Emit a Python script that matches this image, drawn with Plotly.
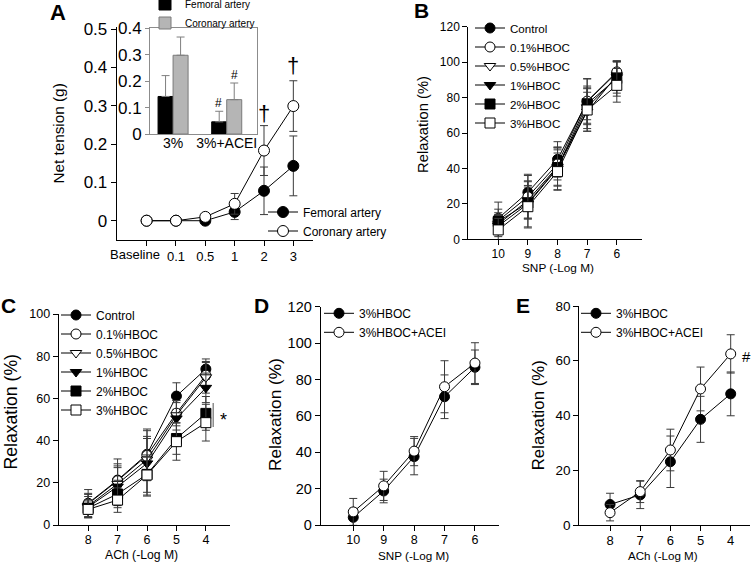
import plotly.graph_objects as go

# ---------------- data ----------------
# Panel A
a_doses = ["Baseline", "0.1", "0.5", "1", "2", "3"]
a_fem = [0.0, 0.0, 0.0, 0.023, 0.078, 0.143]
a_fem_err = [0.0, 0.0, 0.004, 0.02, 0.062, 0.078]
a_cor = [0.0, 0.0, 0.01, 0.044, 0.183, 0.299]
a_cor_err = [0.0, 0.0, 0.005, 0.027, 0.065, 0.066]

# Panel A inset
in_groups = ["3%", "3%+ACEI"]
in_fem = [0.142, 0.046]
in_fem_err = [0.079, 0.040]
in_cor = [0.298, 0.130]
in_cor_err = [0.069, 0.063]

# Panel B (SNP)
snp_doses = ["10", "9", "8", "7", "6"]
b_control = [11.8, 26.5, 45.1, 77.7, 94.0]
b_control_err = [9.2, 10.2, 10.0, 13.0, 6.5]
b_01 = [10.5, 24.0, 42.5, 78.0, 94.5]
b_01_err = [6.5, 12.0, 9.0, 12.5, 6.0]
b_05 = [8.5, 22.0, 41.0, 72.0, 92.5]
b_05_err = [5.5, 10.5, 11.0, 11.0, 7.5]
b_1 = [7.5, 20.0, 40.0, 74.5, 91.5]
b_1_err = [6.0, 13.0, 12.0, 12.0, 9.0]
b_2 = [10.0, 20.5, 40.5, 76.5, 90.8]
b_2_err = [5.0, 9.0, 10.0, 9.0, 10.0]
b_3 = [5.3, 18.4, 38.2, 73.0, 86.9]
b_3_err = [6.5, 12.0, 10.5, 12.0, 9.5]

# Panel C (ACh)
ach_doses = ["8", "7", "6", "5", "4"]
c_control = [10.3, 21.3, 33.5, 61.1, 73.9]
c_control_err = [6.5, 10.0, 12.0, 6.3, 4.8]
c_01 = [10.0, 21.0, 33.0, 53.0, 71.0]
c_01_err = [5.0, 8.0, 9.0, 6.0, 6.0]
c_05 = [9.0, 19.5, 31.0, 52.0, 70.0]
c_05_err = [5.5, 8.5, 10.0, 7.0, 7.5]
c_1 = [8.5, 18.2, 29.2, 50.5, 65.0]
c_1_err = [5.0, 9.0, 15.5, 7.5, 7.0]
c_2 = [8.0, 14.7, 24.0, 41.0, 52.9]
c_2_err = [4.0, 6.5, 8.5, 7.5, 8.0]
c_3 = [7.4, 11.8, 23.7, 39.5, 48.5]
c_3_err = [4.0, 5.8, 9.5, 8.8, 8.7]

# Panel D (SNP)
d_hboc = [4.2, 18.7, 37.6, 70.5, 86.7]
d_hboc_err = [5.0, 6.5, 10.0, 12.0, 9.5]
d_acei = [7.2, 21.5, 40.6, 76.0, 89.0]
d_acei_err = [7.4, 8.0, 8.0, 14.3, 11.2]

# Panel E (ACh)
e_hboc = [7.5, 11.0, 23.1, 38.6, 47.9]
e_hboc_err = [4.1, 5.0, 9.4, 8.4, 8.0]
e_acei = [4.5, 12.2, 27.4, 49.7, 62.5]
e_acei_err = [3.0, 4.0, 7.6, 8.0, 7.0]

hboc_names = ["Control", "0.1%HBOC", "0.5%HBOC", "1%HBOC", "2%HBOC", "3%HBOC"]

# ---------------- styling ----------------
FONT = "Liberation Sans, Arial, sans-serif"
W, H = 756, 562

def px_x(p):
    return p / W

def px_y(p):
    return 1 - p / H

styles = [
    dict(symbol="circle", color="black"),
    dict(symbol="circle", color="white"),
    dict(symbol="triangle-down", color="white"),
    dict(symbol="triangle-down", color="black"),
    dict(symbol="square", color="black"),
    dict(symbol="square", color="white"),
]

fig = go.Figure()

def line_trace(x, y, err, name, st, xa, ya, legend, size=10, ecolor="#3a3a3a"):
    return go.Scatter(
        x=x, y=y, name=name, mode="lines+markers",
        xaxis=xa, yaxis=ya, legend=legend,
        line=dict(color="black", width=1),
        marker=dict(symbol=st["symbol"], color=st["color"], size=size,
                    line=dict(color="black", width=1)),
        error_y=dict(type="data", array=err, color=ecolor, thickness=1, width=4),
    )

# Panel A lines
fig.add_trace(line_trace(a_doses, a_fem, a_fem_err, "Femoral artery", styles[0],
                         "x", "y", "legend", size=11))
fig.add_trace(line_trace(a_doses, a_cor, a_cor_err, "Coronary artery", styles[1],
                         "x", "y", "legend", size=11))

# Panel A inset bars
fig.add_trace(go.Bar(
    x=in_groups, y=in_fem, name="Femoral artery", xaxis="x2", yaxis="y2",
    legend="legend2", marker=dict(color="black", line=dict(color="black", width=1)),
    error_y=dict(type="data", symmetric=False, array=in_fem_err, arrayminus=[0, 0],
                 color="#7f7f7f", thickness=1, width=4),
))
fig.add_trace(go.Bar(
    x=in_groups, y=in_cor, name="Coronary artery", xaxis="x2", yaxis="y2",
    legend="legend2", marker=dict(color="#b5b5b5", line=dict(color="#7a7a7a", width=1)),
    error_y=dict(type="data", symmetric=False, array=in_cor_err, arrayminus=[0, 0],
                 color="#7f7f7f", thickness=1, width=4),
))

# Panel B
b_vals = [b_control, b_01, b_05, b_1, b_2, b_3]
b_errs = [b_control_err, b_01_err, b_05_err, b_1_err, b_2_err, b_3_err]
for nm, v, e, st in zip(hboc_names, b_vals, b_errs, styles):
    fig.add_trace(line_trace(snp_doses, v, e, nm, st, "x3", "y3", "legend3"))

# Panel C
c_vals = [c_control, c_01, c_05, c_1, c_2, c_3]
c_errs = [c_control_err, c_01_err, c_05_err, c_1_err, c_2_err, c_3_err]
for nm, v, e, st in zip(hboc_names, c_vals, c_errs, styles):
    fig.add_trace(line_trace(ach_doses, v, e, nm, st, "x4", "y4", "legend4"))

# Panel D
fig.add_trace(line_trace(snp_doses, d_hboc, d_hboc_err, "3%HBOC", styles[0], "x5", "y5", "legend5"))
fig.add_trace(line_trace(snp_doses, d_acei, d_acei_err, "3%HBOC+ACEI", styles[1], "x5", "y5", "legend5"))

# Panel E
fig.add_trace(line_trace(ach_doses, e_hboc, e_hboc_err, "3%HBOC", styles[0], "x6", "y6", "legend6"))
fig.add_trace(line_trace(ach_doses, e_acei, e_acei_err, "3%HBOC+ACEI", styles[1], "x6", "y6", "legend6"))

# ---------------- axes ----------------
def xax(domain, rng, anchor, fs=12, standoff=-2):
    return dict(domain=domain, range=rng, anchor=anchor, type="category",
                showline=True, linecolor="black", linewidth=1,
                ticks="outside", ticklen=5, tickcolor="black", tickangle=0,
                ticklabelstandoff=standoff,
                showgrid=False, zeroline=False,
                tickfont=dict(family=FONT, size=fs, color="black"))

def yax(domain, rng, anchor, dtick, fs=12):
    return dict(domain=domain, range=rng, anchor=anchor,
                showline=True, linecolor="black", linewidth=1,
                ticks="outside", ticklen=5, tickcolor="black",
                showgrid=False, zeroline=False, tick0=0, dtick=dtick,
                tickfont=dict(family=FONT, size=fs, color="black"))

# "Baseline" label sits left of its tick in the reference: it is written as an
# annotation attached to its category, the other dose labels are tick labels
a_ticktext = [""] + a_doses[1:]
xaxis_a = xax([px_x(116.7), px_x(313)], [-1.02, 5.67], "y", fs=13, standoff=-1)
xaxis_a.update(tickmode="array", tickvals=a_doses, ticktext=a_ticktext)

layout_axes = dict(
    xaxis=xaxis_a,
    yaxis=yax([px_y(240), px_y(26.7)], [-0.0503, 0.506], "x", 0.1, fs=17),
    xaxis2=dict(domain=[px_x(150), px_x(257.3)], range=[-0.43, 1.57], anchor="y2",
                type="category", showline=True, mirror=True, linecolor="#8c8c8c",
                linewidth=1, ticks="", showgrid=False, zeroline=False, tickangle=0,
                ticklabelstandoff=-4,
                tickfont=dict(family=FONT, size=14, color="black")),
    yaxis2=dict(domain=[px_y(134), px_y(28.3)], range=[0, 0.4], anchor="x2",
                showline=True, mirror=True, linecolor="#8c8c8c", linewidth=1,
                ticks="outside", ticklen=4, tickcolor="#8c8c8c",
                showgrid=False, zeroline=False, tick0=0, dtick=0.1,
                tickfont=dict(family=FONT, size=17, color="black")),
    xaxis3=xax([px_x(468.3), px_x(641.7)], [-1.01, 4.84], "y3"),
    yaxis3=yax([px_y(239.3), px_y(26.7)], [0, 120], "x3", 20),
    xaxis4=xax([px_x(58.7), px_x(230)], [-1.0, 4.82], "y4", fs=12.5),
    yaxis4=yax([px_y(525), px_y(314)], [0, 100], "x4", 20, fs=12.5),
    xaxis5=xax([px_x(320.7), px_x(499.3)], [-1.07, 4.8], "y5", fs=12.5),
    yaxis5=yax([px_y(525), px_y(306.7)], [0, 120], "x5", 20, fs=14.5),
    xaxis6=xax([px_x(579.3), px_x(750)], [-1.02, 4.64], "y6", fs=13),
    yaxis6=yax([px_y(525), px_y(306)], [0, 80], "x6", 20, fs=13.5),
)

# ---------------- legends ----------------
# first legend row is centred 14.5 px below the legend's top edge
def leg(xp, first_row, fs=12):
    return dict(x=px_x(xp), y=px_y(first_row - 14.5), xanchor="left", yanchor="top",
                bgcolor="rgba(0,0,0,0)", borderwidth=0, tracegroupgap=0,
                font=dict(family=FONT, size=fs, color="black"), itemclick=False)

legends = dict(
    legend=leg(263, 212, 12),
    legend2=leg(145, 4, 10),
    legend3=leg(470, 28, 11.6),
    legend4=leg(56, 315, 12),
    legend5=leg(319, 313.3, 12),
    legend6=leg(576, 313.3, 12),
)

# ---------------- annotations ----------------
ann = []

def txt(text, x, y, size, bold=False, angle=0, xref="paper", yref="paper",
        xshift=0, color="black"):
    if xref == "paper":
        x = px_x(x)
    if yref == "paper":
        y = px_y(y)
    return dict(text=("<b>%s</b>" % text) if bold else text, x=x, y=y,
                xref=xref, yref=yref, showarrow=False, textangle=angle,
                xanchor="center", yanchor="middle", xshift=xshift,
                font=dict(family=FONT, size=size, color=color))

# panel letters
ann += [txt("A", 58, 13, 22, bold=True), txt("B", 421.7, 11, 21, bold=True),
        txt("C", 8, 305, 21, bold=True), txt("D", 261.7, 305, 21, bold=True),
        txt("E", 523, 305, 21, bold=True)]
# first dose label of panel A (category 0), offset left of its tick
ann += [txt(a_doses[0], 0, 254.5, 13, xref="x", xshift=-12)]
# axis titles
ann += [txt("Net tension (g)", 58.3, 133.3, 15.3, angle=-90),
        txt("Relaxation (%)", 423, 125, 14.8, angle=-90),
        txt("SNP (-Log M)", 558, 268.5, 11.8),
        txt("Relaxation (%)", 10.8, 411.7, 17.6, angle=-90),
        txt("ACh (-Log M)", 141.7, 555, 12.2),
        txt("Relaxation (%)", 275, 415, 17.2, angle=-90),
        txt("SNP (-Log M)", 413.3, 555, 11.7),
        txt("Relaxation (%)", 538.3, 415, 16.8, angle=-90),
        txt("ACh (-Log M)", 663.3, 555, 11.6)]
# significance marks (category axes addressed by serial number)
ann += [txt("\u2020", 4, 0.279, 22, xref="x", yref="y"),
        txt("\u2020", 5, 0.404, 22, xref="x", yref="y"),
        txt("#", 1, 0.118, 12, xref="x2", yref="y2", xshift=-7.8),
        txt("#", 1, 0.225, 12, xref="x2", yref="y2", xshift=7.5),
        txt("*", 4.6, 50.0, 18, xref="x4", yref="y4"),
        txt("#", 4, 61.7, 15, xref="x6", yref="y6", xshift=16)]

shapes = [dict(type="line", xref="x4", yref="y4", x0=4.25, x1=4.25, y0=46.4, y1=57.8,
               line=dict(color="#8c8c8c", width=1.5))]

fig.update_layout(
    width=W, height=H,
    margin=dict(l=0, r=0, t=0, b=0, pad=0, autoexpand=False),
    paper_bgcolor="white", plot_bgcolor="white",
    font=dict(family=FONT, size=12, color="black"),
    barmode="group", bargap=0.44, bargroupgap=0,
    annotations=ann, shapes=shapes,
    **layout_axes, **legends,
)

fig.write_html(
    "out.html",
    config={"displayModeBar": False},
    post_script="document.body.style.margin='0px';document.body.style.overflow='hidden';",
)
